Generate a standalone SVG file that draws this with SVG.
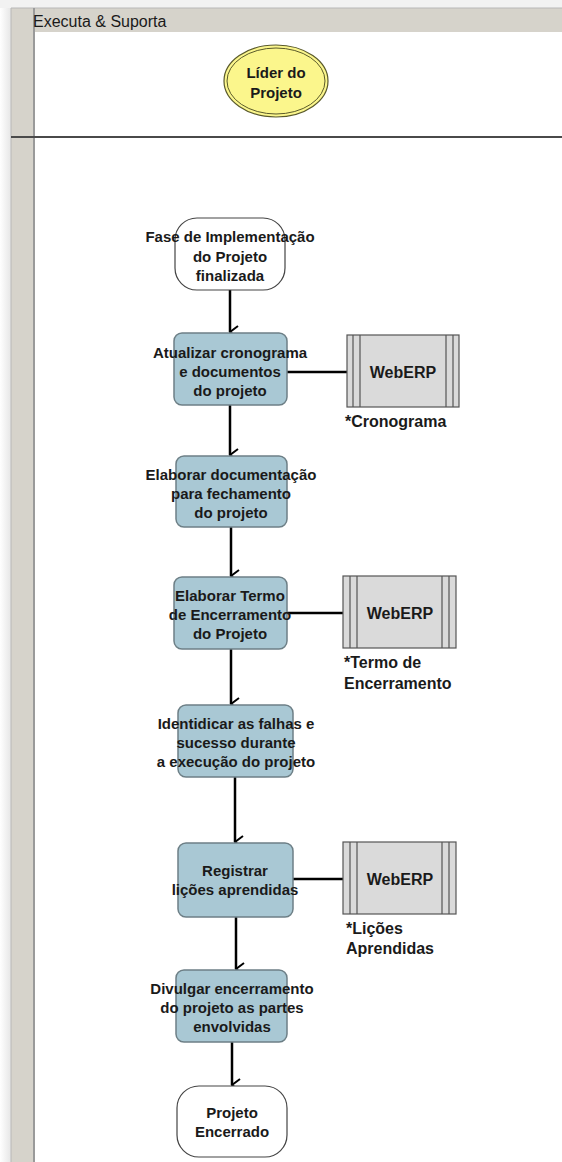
<svg xmlns="http://www.w3.org/2000/svg" width="562" height="1162" viewBox="0 0 562 1162">
<defs>
<linearGradient id="sh" x1="0" y1="0" x2="1" y2="0">
<stop offset="0" stop-color="#ffffff"/>
<stop offset="1" stop-color="#e6e6e6"/>
</linearGradient>
<marker id="arr" markerWidth="14" markerHeight="10" refX="7" refY="9" orient="auto" markerUnits="userSpaceOnUse" viewBox="0 0 14 10">
<path d="M1,1 L7,9 L13,1" fill="none" stroke="#000" stroke-width="2"/>
</marker>
</defs>
<style>
.t{font-family:"Liberation Sans",Arial,sans-serif;font-size:15px;font-weight:bold;fill:#1a1a1a;text-anchor:middle}
.w{font-family:"Liberation Sans",Arial,sans-serif;font-size:16px;font-weight:bold;fill:#1a1a1a;text-anchor:middle}
.lbl{font-family:"Liberation Sans",Arial,sans-serif;font-size:16px;font-weight:bold;fill:#1a1a1a}
.task{fill:#a9c8d4;stroke:#6d7f86;stroke-width:1.5}
.term{fill:#ffffff;stroke:#444;stroke-width:1.2}
.sys{fill:#dadada;stroke:#555;stroke-width:1.2}
.sl{stroke:#555;stroke-width:1.2}
.c{stroke:#000;stroke-width:2.5;fill:none}
</style>
<rect x="0" y="0" width="562" height="1162" fill="#ffffff"/>
<rect x="0" y="0" width="11" height="1162" fill="url(#sh)"/>
<rect x="0" y="0" width="562" height="8" fill="#f2f2f2"/>
<g id="frame">
<rect x="11" y="8" width="551" height="24" fill="#d6d3cb"/>
<rect x="11" y="8" width="22" height="1154" fill="#d6d3cb"/>
<line x1="11" y1="8" x2="562" y2="8" stroke="#b8b8b8" stroke-width="1"/>
<line x1="11" y1="8" x2="11" y2="1162" stroke="#b8b8b8" stroke-width="1"/>
<line x1="34" y1="8" x2="34" y2="1162" stroke="#9a9a9a" stroke-width="2"/>
<line x1="11" y1="137" x2="562" y2="137" stroke="#4a4a4a" stroke-width="2"/>
<text x="33" y="27" style="font-family:'Liberation Sans',Arial,sans-serif;font-size:16px;fill:#1a1a1a">Executa &amp; Suporta</text>
</g>
<g id="lider">
<ellipse cx="276" cy="81" rx="52" ry="36" fill="#fbf68c" stroke="#5a5a2a" stroke-width="1.2"/>
<ellipse cx="276" cy="81" rx="49" ry="33" fill="none" stroke="#5a5a2a" stroke-width="1"/>
<text class="t" x="276" y="78">Líder do</text>
<text class="t" x="276" y="98">Projeto</text>
</g>
<g id="connectors">
<line class="c" x1="230" y1="290" x2="230" y2="332" marker-end="url(#arr)"/>
<line class="c" x1="230" y1="405" x2="230" y2="455" marker-end="url(#arr)"/>
<line class="c" x1="231" y1="527" x2="231" y2="576" marker-end="url(#arr)"/>
<line class="c" x1="231" y1="649" x2="231" y2="704" marker-end="url(#arr)"/>
<line class="c" x1="235" y1="777" x2="235" y2="842" marker-end="url(#arr)"/>
<line class="c" x1="236" y1="917" x2="236" y2="969" marker-end="url(#arr)"/>
<line class="c" x1="232" y1="1042" x2="232" y2="1085" marker-end="url(#arr)"/>
<line class="c" x1="287" y1="372" x2="347" y2="372"/>
<line class="c" x1="287" y1="613" x2="343" y2="613"/>
<line class="c" x1="293" y1="879" x2="343" y2="879"/>
</g>
<g id="start">
<rect class="term" x="175" y="218" width="110" height="72" rx="22" ry="22"/>
<text class="t" x="230" y="242">Fase de Implementação</text>
<text class="t" x="230" y="262">do Projeto</text>
<text class="t" x="230" y="281">finalizada</text>
</g>
<g id="task1">
<rect class="task" x="174" y="333" width="113" height="72" rx="8" ry="8"/>
<text class="t" x="230" y="358">Atualizar cronograma</text>
<text class="t" x="230" y="377">e documentos</text>
<text class="t" x="230" y="396">do projeto</text>
</g>
<g id="sys1">
<rect class="sys" x="347" y="335" width="112" height="72"/>
<line class="sl" x1="353" y1="335" x2="353" y2="407"/>
<line class="sl" x1="360" y1="335" x2="360" y2="407"/>
<line class="sl" x1="446" y1="335" x2="446" y2="407"/>
<line class="sl" x1="453" y1="335" x2="453" y2="407"/>
<text class="w" x="403" y="378">WebERP</text>
<text class="lbl" x="345" y="427">*Cronograma</text>
</g>
<g id="task2">
<rect class="task" x="176" y="456" width="111" height="71" rx="8" ry="8"/>
<text class="t" x="231" y="480">Elaborar documentação</text>
<text class="t" x="231" y="499">para fechamento</text>
<text class="t" x="231" y="518">do projeto</text>
</g>
<g id="task3">
<rect class="task" x="174" y="577" width="113" height="72" rx="8" ry="8"/>
<text class="t" x="230" y="601">Elaborar Termo</text>
<text class="t" x="230" y="620">de Encerramento</text>
<text class="t" x="230" y="639">do Projeto</text>
</g>
<g id="sys2">
<rect class="sys" x="343" y="576" width="113" height="72"/>
<line class="sl" x1="350" y1="576" x2="350" y2="648"/>
<line class="sl" x1="357" y1="576" x2="357" y2="648"/>
<line class="sl" x1="442" y1="576" x2="442" y2="648"/>
<line class="sl" x1="449" y1="576" x2="449" y2="648"/>
<text class="w" x="400" y="619">WebERP</text>
<text class="lbl" x="344" y="668">*Termo de</text>
<text class="lbl" x="344" y="689">Encerramento</text>
</g>
<g id="task4">
<rect class="task" x="178" y="705" width="115" height="72" rx="8" ry="8"/>
<text class="t" x="236" y="729">Identidicar  as falhas e</text>
<text class="t" x="236" y="748">sucesso durante</text>
<text class="t" x="236" y="767">a execução do projeto</text>
</g>
<g id="task5">
<rect class="task" x="178" y="843" width="115" height="74" rx="8" ry="8"/>
<text class="t" x="235" y="876">Registrar</text>
<text class="t" x="235" y="895">lições aprendidas</text>
</g>
<g id="sys3">
<rect class="sys" x="343" y="842" width="113" height="72"/>
<line class="sl" x1="350" y1="842" x2="350" y2="914"/>
<line class="sl" x1="357" y1="842" x2="357" y2="914"/>
<line class="sl" x1="442" y1="842" x2="442" y2="914"/>
<line class="sl" x1="449" y1="842" x2="449" y2="914"/>
<text class="w" x="400" y="885">WebERP</text>
<text class="lbl" x="346" y="934">*Lições</text>
<text class="lbl" x="346" y="954">Aprendidas</text>
</g>
<g id="task6">
<rect class="task" x="176" y="970" width="111" height="72" rx="8" ry="8"/>
<text class="t" x="232" y="994">Divulgar encerramento</text>
<text class="t" x="232" y="1013">do projeto as partes</text>
<text class="t" x="232" y="1032">envolvidas</text>
</g>
<g id="end">
<rect class="term" x="177" y="1086" width="110" height="71" rx="22" ry="22"/>
<text class="t" x="232" y="1118">Projeto</text>
<text class="t" x="232" y="1137">Encerrado</text>
</g>
</svg>
